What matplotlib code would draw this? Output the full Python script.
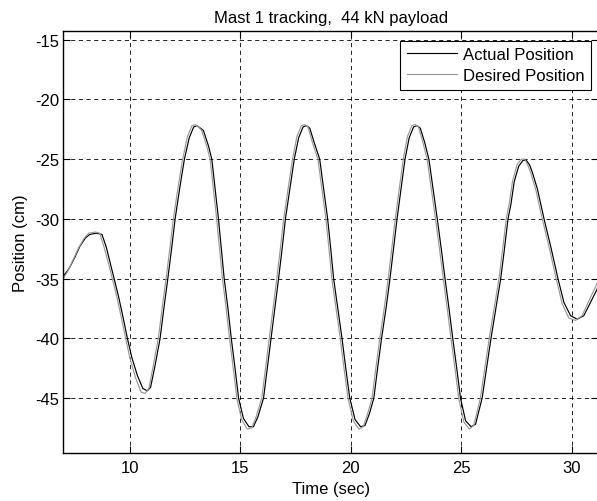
import matplotlib
matplotlib.use("Agg")
import matplotlib.pyplot as plt

plt.rcParams['font.family'] = ['Liberation Sans', 'DejaVu Sans']
plt.rcParams['axes.unicode_minus'] = False

# actual position
t_actual = [7.00, 7.25, 7.50, 7.75, 8.00, 8.20, 8.50, 8.75, 8.95, 9.15, 9.30, 9.50,
            9.70, 9.90, 10.10, 10.35, 10.60, 10.80, 10.95, 11.15, 11.38, 11.55, 11.73,
            11.90, 12.06, 12.27, 12.48, 12.70, 12.90, 13.05, 13.20, 13.34, 13.57, 13.72,
            13.87, 14.02, 14.15, 14.28, 14.45, 14.60, 14.77, 14.93, 15.15, 15.40, 15.60,
            15.80, 16.06, 16.23, 16.40, 16.57, 16.74, 16.90, 17.05, 17.25, 17.45, 17.65,
            17.85, 18.00, 18.15, 18.35, 18.60, 18.78, 18.96, 19.10, 19.23, 19.42, 19.61,
            19.78, 19.96, 20.20, 20.45, 20.65, 20.85, 21.05, 21.22, 21.40, 21.60, 21.78,
            21.94, 22.10, 22.28, 22.46, 22.65, 22.85, 23.00, 23.15, 23.35, 23.54, 23.73,
            23.92, 24.10, 24.27, 24.45, 24.62, 24.80, 24.97, 25.20, 25.45, 25.65, 25.95,
            26.15, 26.35, 26.57, 26.79, 26.96, 27.12, 27.25, 27.40, 27.60, 27.80, 27.95,
            28.10, 28.22, 28.45, 28.75, 29.05, 29.38, 29.65, 29.95, 30.25, 30.55, 30.85,
            31.20]
y_actual = [-34.8, -34.2, -33.3, -32.3, -31.6, -31.3, -31.2, -31.3, -32.4, -33.9, -35.0, -36.5,
            -38.2, -40.0, -41.6, -43.1, -44.2, -44.4, -44.1, -42.3, -40.0, -37.5, -35.0,
            -32.5, -30.0, -27.4, -25.0, -23.2, -22.3, -22.2, -22.4, -22.6, -23.9, -25.0,
            -27.5, -30.0, -32.5, -35.0, -37.5, -40.0, -42.5, -45.0, -46.7, -47.4, -47.4,
            -46.6, -45.0, -42.5, -40.0, -37.5, -35.0, -32.5, -30.0, -27.5, -25.0, -23.2,
            -22.3, -22.2, -22.4, -23.6, -25.0, -27.5, -30.0, -32.5, -35.0, -37.5, -40.0,
            -42.5, -45.0, -46.8, -47.4, -47.3, -46.3, -45.0, -42.5, -40.0, -37.5, -35.0,
            -32.5, -30.0, -27.5, -25.0, -23.2, -22.3, -22.2, -22.4, -23.6, -25.0, -27.5,
            -30.0, -32.5, -35.0, -37.5, -40.0, -42.5, -45.0, -46.9, -47.4, -47.2, -45.0,
            -42.5, -40.0, -37.5, -35.0, -32.5, -30.0, -28.8, -26.9, -25.6, -25.1, -25.1,
            -25.5, -26.1, -27.5, -30.0, -32.3, -35.0, -37.0, -38.1, -38.4, -38.1, -37.0,
            -35.7]

# desired position (sits a hair ahead of the actual trace)
t_desired = [7.00, 7.20, 7.45, 7.70, 7.95, 8.15, 8.45, 8.65, 8.85, 9.07, 9.22, 9.42,
             9.62, 9.82, 10.02, 10.27, 10.52, 10.70, 10.87, 11.07, 11.30, 11.47, 11.65,
             11.82, 11.98, 12.19, 12.40, 12.62, 12.82, 12.97, 13.12, 13.26, 13.49, 13.64,
             13.79, 13.94, 14.07, 14.20, 14.37, 14.52, 14.69, 14.85, 15.07, 15.32, 15.52,
             15.72, 15.98, 16.15, 16.32, 16.49, 16.66, 16.82, 16.97, 17.17, 17.37, 17.57,
             17.77, 17.92, 18.07, 18.27, 18.52, 18.70, 18.88, 19.02, 19.15, 19.34, 19.53,
             19.70, 19.88, 20.12, 20.37, 20.57, 20.77, 20.97, 21.14, 21.32, 21.52, 21.70,
             21.86, 22.02, 22.20, 22.38, 22.57, 22.77, 22.92, 23.07, 23.27, 23.46, 23.65,
             23.84, 24.02, 24.19, 24.37, 24.54, 24.72, 24.89, 25.12, 25.37, 25.57, 25.87,
             26.07, 26.27, 26.49, 26.71, 26.88, 27.04, 27.17, 27.32, 27.52, 27.72, 27.87,
             28.02, 28.14, 28.37, 28.67, 28.97, 29.30, 29.57, 29.87, 30.17, 30.47, 30.77,
             31.20]
y_desired = [-35.0, -34.4, -33.4, -32.4, -31.6, -31.2, -31.1, -31.2, -32.4, -33.9, -35.0, -36.5,
             -38.2, -40.0, -41.7, -43.3, -44.5, -44.6, -44.2, -42.3, -40.0, -37.5, -35.0,
             -32.5, -30.0, -27.4, -25.0, -23.1, -22.2, -22.1, -22.3, -22.6, -23.9, -25.0,
             -27.5, -30.0, -32.5, -35.0, -37.5, -40.0, -42.5, -45.0, -46.8, -47.6, -47.5,
             -46.6, -45.0, -42.5, -40.0, -37.5, -35.0, -32.5, -30.0, -27.5, -25.0, -23.1,
             -22.2, -22.1, -22.3, -23.6, -25.0, -27.5, -30.0, -32.5, -35.0, -37.5, -40.0,
             -42.5, -45.0, -46.9, -47.6, -47.4, -46.3, -45.0, -42.5, -40.0, -37.5, -35.0,
             -32.5, -30.0, -27.5, -25.0, -23.1, -22.2, -22.1, -22.3, -23.6, -25.0, -27.5,
             -30.0, -32.5, -35.0, -37.5, -40.0, -42.5, -45.0, -47.0, -47.6, -47.3, -45.0,
             -42.5, -40.0, -37.5, -35.0, -32.5, -30.0, -28.8, -26.9, -25.5, -25.0, -25.0,
             -25.5, -26.1, -27.5, -30.0, -32.3, -35.0, -37.1, -38.3, -38.5, -38.1, -36.9,
             -35.2]

x_ticks = [10, 15, 20, 25, 30]
y_ticks = [-15, -20, -25, -30, -35, -40, -45]

fig = plt.figure(figsize=(5.97, 5.02), dpi=100)
ax = fig.add_axes([0.106, 0.0956, 0.896, 0.840])

ax.plot(t_actual, y_actual, color='black', lw=0.85, label='Actual Position')
ax.plot(t_desired, y_desired, color='#9a9a9a', lw=0.85, label='Desired Position')

ax.set_xlim(7, 31.2)
ax.set_ylim(-49.6, -14.3)
ax.set_xticks(x_ticks)
ax.set_yticks(y_ticks)
ax.tick_params(direction='in', length=5, width=0.8, labelsize=12,
               top=True, right=True, colors='black')
ax.tick_params(axis='x', pad=5)
ax.tick_params(axis='y', pad=3)
ax.grid(True, color='black', lw=0.6, linestyle=(0, (5, 4.2)))
for s in ax.spines.values():
    s.set_linewidth(1.0)

ax.set_title('Mast 1 tracking,  44 kN payload', fontsize=12, pad=7)
ax.set_xlabel('Time (sec)', fontsize=12, labelpad=4)
ax.set_ylabel('Position (cm)', fontsize=12, labelpad=5)

leg = ax.legend(loc='upper right', bbox_to_anchor=(0.987, 0.978), borderaxespad=0,
                fancybox=False, framealpha=1, edgecolor='black', fontsize=12,
                handlelength=3.0, handletextpad=0.35, borderpad=0.4, labelspacing=0.35)
leg.get_frame().set_linewidth(0.8)

fig.savefig('out.png', dpi=100)
